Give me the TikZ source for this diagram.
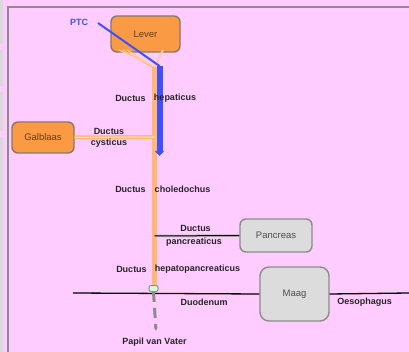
\documentclass[tikz,border=0pt]{standalone}
\usepackage{fontspec}
\setmainfont{Liberation Sans}
\usepackage{xcolor}
\usetikzlibrary{arrows.meta}
\definecolor{bgpink}{HTML}{FFCCFF}
\definecolor{organ}{HTML}{FA9A45}
\definecolor{organrim}{HTML}{8A7766}
\definecolor{greyfill}{HTML}{DCDCDC}
\definecolor{greyrim}{HTML}{8C8C8C}
\definecolor{duct}{HTML}{FFB877}
\definecolor{ptcblue}{HTML}{4050FF}
\tikzset{
  organbox/.style={draw=organrim, line width=1.4pt, fill=organ, rounded corners=6pt,
    font=\fontsize{9.5}{10}\selectfont, text=brown!50!black},
  greybox/.style={draw=greyrim, line width=1.4pt, fill=greyfill, rounded corners=6pt,
    font=\fontsize{9.5}{10}\selectfont, text=black!70},
  lbl/.style={font=\fontsize{9}{10}\selectfont\bfseries, text=black!85, inner sep=0pt},
  ductline/.style={draw=duct, line width=4.5pt},
  blackline/.style={draw=black, line width=1.3pt}
}
\begin{document}
\begin{tikzpicture}[x=1pt, y=-1pt]
\useasboundingbox (0,0) rectangle (409,352);
\fill[bgpink] (0,0) rectangle (409,352);
% frame
\fill[black!15] (0,0) rectangle (3,44);
\fill[black!15] (0,50) rectangle (3,86);
\fill[black!15] (0,92) rectangle (3,131);
\fill[black!15] (0,137) rectangle (3,352);
\draw[greyrim, line width=2pt] (8,352) -- (8,7) -- (409,7);

% organs
\node[organbox, minimum width=69pt, minimum height=36pt] (lever) at (145.5,34) {Lever};
\node[organbox, minimum width=62pt, minimum height=31pt] (gal) at (43,137.5) {Galblaas};
\node[greybox, minimum width=72pt, minimum height=33pt] (panc) at (276,235.5) {Pancreas};
\node[greybox, minimum width=69pt, minimum height=54pt, rounded corners=9pt] (maag) at (294.5,294) {Maag};

% junctions
\coordinate (junc) at (154.5,67);
\coordinate (cj) at (154.5,137);
\coordinate (pj) at (154.5,236);
\coordinate (duoL) at (73,293);
\coordinate (duoR) at (409,293);
\coordinate (ptcA) at (98,23);
\coordinate (ptcB) at (159.5,66);
\coordinate (ptcC) at (159.5,156);
\coordinate (vater) at (156,331);
\coordinate (lvA) at (127,50);
\coordinate (lvB) at (163,50);

% bile ducts
\draw[duct!70!white, line width=1.3pt] (lvA) -- (junc);
\draw[duct, line width=1.3pt] ([xshift=-4pt]lvA) -- ([xshift=-2.5pt]junc);
\draw[duct!70!white, line width=1.3pt] ([xshift=-8pt]lvA) -- ([xshift=-1pt,yshift=1pt]junc);
\draw[duct!70!white, line width=2pt] (lvB) -- (junc);
\draw[ductline] (junc) -- (154.5,287);
\draw[duct, line width=4pt] (gal.east) -- (cj);
\draw[white!60!duct, line width=1pt] (gal.east) -- (cj);
\draw[greyrim!60, line width=2.5pt] (pj) -- (panc.west);
\draw[black, line width=1pt] (pj) -- (panc.west);

% duodenum
\draw[blackline] (duoL) -- (maag.west);
\draw[blackline] (maag.east) -- (duoR);
\node[draw=greyrim, line width=1pt, fill=green!15, rounded corners=2pt,
  minimum width=9pt, minimum height=6pt, inner sep=0pt] (papil) at (153.5,288.5) {};
\draw[greyrim, line width=3pt, dash pattern=on 10pt off 6pt, -{Stealth[length=4pt]}]
  (papil.south) -- (vater);

% PTC
\draw[ptcblue, line width=2pt] (ptcA) -- (ptcB);
\draw[ptcblue, line width=6pt, -{Triangle[length=5pt, width=9pt]}] (ptcB) -- (ptcC);
\node[lbl, text=ptcblue] (ptc) at (79,22) {PTC};

% labels
\node[lbl] (hep1) at (130.5,98) {Ductus};
\node[lbl] (hep2) at (175,98) {hepaticus};
\node[lbl] (cys1) at (109,131) {Ductus};
\node[lbl] (cys2) at (109,143) {cysticus};
\node[lbl] (cho1) at (130.5,189) {Ductus};
\node[lbl] (cho2) at (182.5,189) {choledochus};
\node[lbl] (pan1) at (195.5,228) {Ductus};
\node[lbl] (pan2) at (194,242) {pancreaticus};
\node[lbl] (hp1) at (131.5,269) {Ductus};
\node[lbl] (hp2) at (197.5,269) {hepatopancreaticus};
\node[lbl] (duo) at (204,302) {Duodenum};
\node[lbl] (oes) at (364.5,302) {Oesophagus};
\node[lbl] (pvv) at (154.5,342) {Papil van Vater};
\end{tikzpicture}
\end{document}
